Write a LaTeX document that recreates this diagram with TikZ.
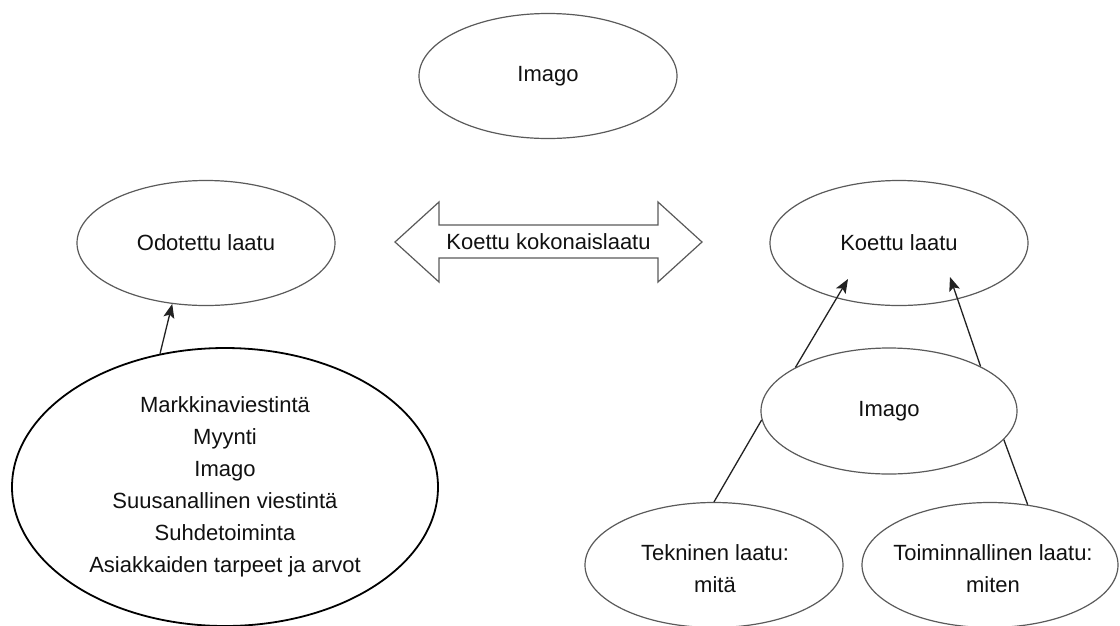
\documentclass[tikz,border=0pt]{standalone}
\usepackage{fontspec}
\setmainfont{Liberation Sans}
\usetikzlibrary{shapes.geometric,arrows.meta,calc}
\definecolor{edgegray}{HTML}{5A5A5A}
\definecolor{linegray}{HTML}{222222}
\definecolor{txt}{HTML}{111111}
\begin{document}
\begin{tikzpicture}[x=1pt,y=-1pt,
  ell/.style={draw=edgegray, line width=1.2pt, ellipse, inner sep=0pt, fill=white},
  lbl/.style={font=\fontsize{22}{32}\selectfont, text=txt, align=center, inner sep=0pt},
  conn/.style={draw=linegray, line width=1.3pt},
  arr/.style={conn, -{Stealth[length=14pt,width=11pt,inset=3pt]}}]
\fill[white] (0,0) rectangle (1120,625);
\useasboundingbox (0,0) rectangle (1120,625);

% ellipses
\node[ell, minimum width=258pt, minimum height=125pt] (imagotop) at (548,76) {};
\node[lbl] (imagotopt) at (imagotop) {Imago};

\node[ell, minimum width=258pt, minimum height=125pt] (odot) at (206,243) {};
\node[lbl] (odott) at (odot) {Odotettu laatu};

\node[ell, minimum width=258pt, minimum height=125pt] (koettu) at (899,243) {};
\node[lbl] (koettut) at (koettu) {Koettu laatu};

\node[ell, minimum width=256pt, minimum height=126pt] (imagor) at (889,411) {};
\node[lbl] (imagort) at (imagor) {Imago};

\node[ell, draw=black, line width=1.8pt, minimum width=426pt, minimum height=278pt] (big) at (225,487) {};
\node[lbl] (bigt) at (big) {Markkinaviestintä\\Myynti\\Imago\\Suusanallinen viestintä\\Suhdetoiminta\\Asiakkaiden tarpeet ja arvot};

\node[ell, minimum width=258pt, minimum height=125pt] (tekn) at (714,565) {};
\node[lbl] (teknt) at ($(tekn)+(1,4)$) {Tekninen laatu:\\mitä};

\node[ell, minimum width=256pt, minimum height=125pt] (toim) at (990,565) {};
\node[lbl] (toimt) at ($(toim)+(3,4)$) {Toiminnallinen laatu:\\miten};

% double arrow
\draw[edgegray, line width=1.2pt, fill=white, line join=miter]
  (395,242) -- (439,202) -- (439,225) -- (658,225) -- (658,202) -- (702,242)
  -- (658,282) -- (658,258) -- (439,258) -- (439,282) -- cycle;
\node[lbl] (kk) at (548.5,242) {Koettu kokonaislaatu};

% connectors
\coordinate (k1) at ($(koettu)+(-51,36)$);
\coordinate (k2) at ($(koettu)+(51,34)$);
\draw[arr] (big.116.4) -- (odot.241.3);
\draw[arr] (imagor.155.4) -- (k1);
\draw[arr] (imagor.26.3) -- (k2);
\draw[conn] (imagor.184) -- (tekn.north);
\draw[conn] (imagor.346.3) -- (toim.58);
\end{tikzpicture}
\end{document}
